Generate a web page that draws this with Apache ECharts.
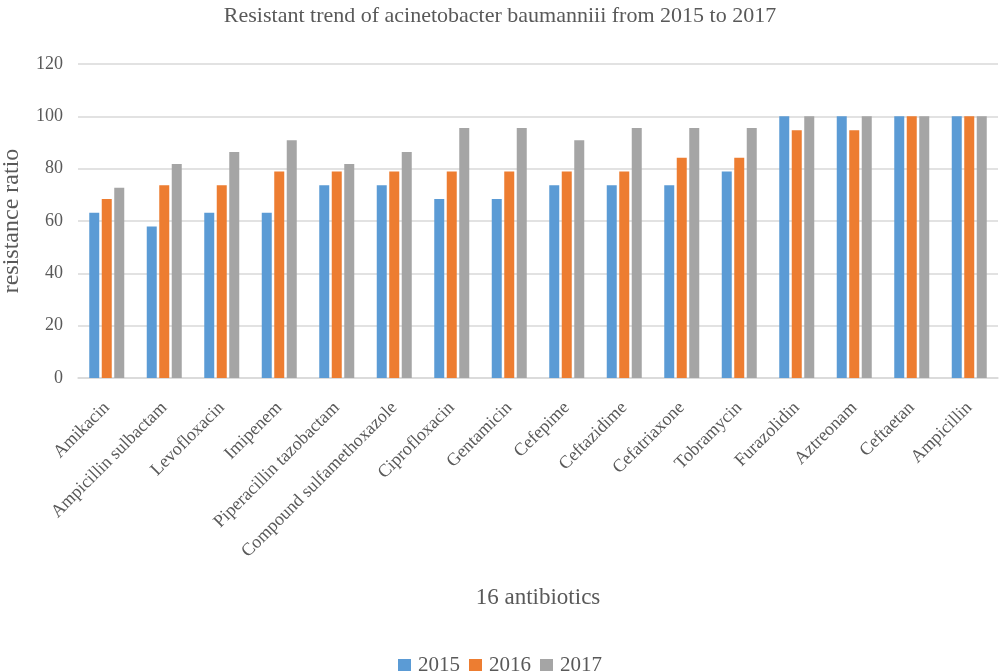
<!DOCTYPE html>
<html>
<head>
<meta charset="utf-8">
<script src="https://cdn.jsdelivr.net/npm/echarts@6/dist/echarts.min.js"></script>
<style>
    html, body { margin: 0; padding: 0; background: #fff; }
    #chart { width: 1000px; height: 671px; }
</style>
</head>
<body>
<div id="chart"></div>
<script>
    // 16种抗生素
    var antibiotics = ['Amikacin', 'Ampicillin sulbactam', 'Levofloxacin', 'Imipenem',
        'Piperacillin tazobactam', 'Compound sulfamethoxazole', 'Ciprofloxacin', 'Gentamicin',
        'Cefepime', 'Ceftazidime', 'Cefatriaxone', 'Tobramycin', 'Furazolidin', 'Aztreonam',
        'Ceftaetan', 'Ampicillin'];
    var years = ['2015', '2016', '2017'];
    var ratio2015 = [63.2, 57.9, 63.2, 63.2, 73.7, 73.7, 68.4, 68.4, 73.7, 73.7, 73.7, 78.9, 100, 100, 100, 100];
    var ratio2016 = [68.4, 73.7, 73.7, 78.9, 78.9, 78.9, 78.9, 78.9, 78.9, 78.9, 84.2, 84.2, 94.7, 94.7, 100, 100];
    var ratio2017 = [72.7, 81.8, 86.4, 90.9, 81.8, 86.4, 95.5, 95.5, 90.9, 95.5, 95.5, 95.5, 100, 100, 100, 100];
    var yTicks = [0, 20, 40, 60, 80, 100, 120];

    var font = '"Liberation Serif", "DejaVu Serif", serif';
    var textColor = '#595959';

    function makeSeries(name, data, color) {
        return {
            name: name,
            type: 'bar',
            data: data,
            barWidth: 10,
            barGap: '25%',
            itemStyle: { color: color }
        };
    }

    var mychart = echarts.init(document.getElementById('chart'));
    var option = {
        animation: false,
        textStyle: { fontFamily: font },
        title: {
            left: 'center',
            top: 0,
            text: 'Resistant trend of acinetobacter baumanniii from 2015 to 2017',
            textStyle: {
                color: textColor,
                fontFamily: font,
                fontWeight: 'normal',
                fontSize: 22
            }
        },
        legend: {
            top: 650,
            left: 'center',
            itemWidth: 13,
            itemHeight: 13,
            itemGap: 9,
            icon: 'rect',
            data: years,
            textStyle: { color: textColor, fontFamily: font, fontSize: 21, padding: [0, 0, 0, 2] }
        },
        grid: {
            left: 78,
            right: 2,
            top: 64,
            bottom: 293,
            containLabel: false,
            outerBoundsMode: 'none'
        },
        xAxis: [{
            type: 'category',
            data: antibiotics,
            name: '16 antibiotics',
            nameLocation: 'middle',
            nameGap: 208,
            nameTextStyle: { color: textColor, fontFamily: font, fontSize: 23 },
            axisLine: { lineStyle: { color: '#d9d9d9', width: 1.5 } },
            axisTick: { show: false },
            axisLabel: {
                rotate: 45,
                interval: 0,
                margin: 27,
                color: textColor,
                fontFamily: font,
                fontSize: 18
            }
        }],
        yAxis: [{
            type: 'value',
            min: yTicks[0],
            max: yTicks[yTicks.length - 1],
            interval: yTicks[1] - yTicks[0],
            name: 'resistance ratio',
            nameLocation: 'middle',
            nameGap: 54,
            nameRotate: 90,
            nameTextStyle: { color: textColor, fontFamily: font, fontSize: 24 },
            axisLine: { show: false },
            axisTick: { show: false },
            axisLabel: { color: textColor, fontFamily: font, fontSize: 18, margin: 15 },
            splitLine: { lineStyle: { color: '#d9d9d9', width: 1.5 } }
        }],
        series: [
            makeSeries(years[0], ratio2015, '#5B9BD5'),
            makeSeries(years[1], ratio2016, '#ED7D31'),
            makeSeries(years[2], ratio2017, '#A5A5A5')
        ]
    };
    mychart.setOption(option);
</script>
</body>
</html>
